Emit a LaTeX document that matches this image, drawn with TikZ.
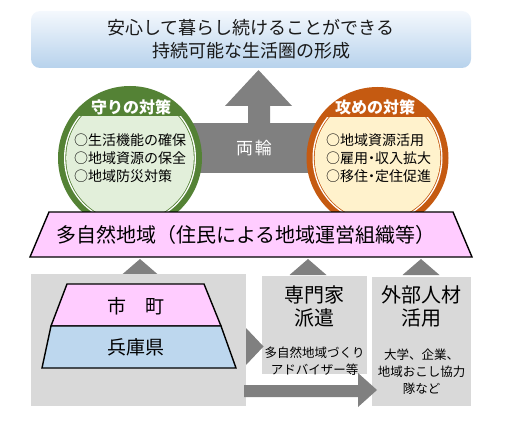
\documentclass[tikz,border=0pt]{standalone}
\usepackage{fontspec}
\setmainfont{Noto Sans CJK JP}
\usetikzlibrary{positioning}
\definecolor{goaltop}{HTML}{F4F8FD}
\definecolor{goalbot}{HTML}{B7D2EC}
\definecolor{arrgray}{HTML}{808080}
\definecolor{boxgray}{HTML}{D9D9D9}
\definecolor{defgreen}{HTML}{548235}
\definecolor{deflight}{HTML}{E2EFDA}
\definecolor{atkorange}{HTML}{C55A11}
\definecolor{atklight}{HTML}{FFF2CC}
\definecolor{areapink}{HTML}{FFCCFF}
\definecolor{prefblue}{HTML}{BDD7EE}
\newcommand{\ndot}{\kern-3.5pt・\kern-3.5pt}

\begin{document}
\begin{tikzpicture}[x=1pt,y=1pt,
  goal/.style={rounded corners=9pt,top color=goaltop,bottom color=goalbot,minimum width=440pt,minimum height=57pt,align=center,inner sep=0pt,font=\fontsize{18}{23}\selectfont,text=black!90},
  blk/.style={fill=arrgray},
  head/.style={text=white,inner sep=0pt,font=\fontsize{16}{18}\selectfont\bfseries},
  items/.style={anchor=west,align=left,inner sep=0pt,font=\fontsize{14}{18}\selectfont},
  tier/.style={draw=black,line width=1.4pt,line join=miter},
  panel/.style={fill=boxgray,inner sep=0pt},
  title/.style={align=center,inner sep=0pt,font=\fontsize{20}{23}\selectfont},
  note/.style={align=center,inner sep=0pt,font=\fontsize{12.5}{17}\selectfont}]
\useasboundingbox (0,0) rectangle (514,421);

% goal and the two wheels
\node[goal] (goal) at (251,381.5) {安心して暮らし続けることができる\\持続可能な生活圏の形成};
\fill[blk] (248,298) -- (248,315) -- (225,315) -- (258.5,351) -- (292,315) -- (270,315) -- (270,298) -- cycle;
\node[blk,minimum width=150pt,minimum height=50pt,text=white,font=\fontsize{17}{18}\selectfont] (wheel) at (254,273) {両\hspace{2pt}輪};

\fill[defgreen] (130,263) circle (72);
\begin{scope}
  \clip (50,150) rectangle (210,304);
  \fill[white] (130,263) circle (66);
  \fill[defgreen] (130,263) circle (64.6);
  \fill[deflight] (130,263) circle (63.8);
\end{scope}
\node[head] (defh) at (131,314) {守りの対策};
\node[items] (defl) at (74,263) {○生活機能の確保\\○地域資源の保全\\○地域防災対策};

\fill[atkorange] (377.5,263) circle (71);
\begin{scope}
  \clip (300,150) rectangle (455,303);
  \fill[white] (377.5,263) circle (65);
  \fill[atkorange] (377.5,263) circle (63.6);
  \fill[atklight] (377.5,263) circle (62.8);
\end{scope}
\node[head] (atkh) at (375,314) {攻めの対策};
\node[items] (atkl) at (326,263) {○地域資源活用\\○雇用\ndot 収入拡大\\○移住\ndot 定住促進};

% base: the area organisation
\draw[tier,fill=areapink] (30,164) -- (49,209) -- (453,209) -- (472,164) -- cycle;
\node[anchor=west,inner sep=0pt,font=\fontsize{20}{22}\selectfont] (area) at (56,186.5) {多自然地域（住民による地域運営組織等）};

\foreach \cx in {140,308,421}
  \fill[blk] (\cx-18.5,146) -- (\cx,162) -- (\cx+18.5,146) -- cycle;

% supporters
\node[panel,minimum width=215pt,minimum height=132pt] (local) at (138.5,81) {};
\draw[tier,fill=areapink] (51,95) -- (67,137) -- (204,137) -- (221,95) -- cycle;
\draw[tier,fill=prefblue] (42,53) -- (51,95) -- (221,95) -- (236,53) -- cycle;
\node[title,font=\fontsize{19}{22}\selectfont] (city) at (136,115) {市　町};
\node[title,font=\fontsize{19}{22}\selectfont] (pref) at (136,74) {兵庫県};

\node[panel,minimum width=105pt,minimum height=98pt] (expert) at (314.5,96) {};
\node[title] (expt) at (314.5,114.5) {専門家\\派遣};
\node[note,below=19pt of expt] (expn) {多自然地域づくり\\アドバイザー等};

\node[panel,minimum width=99pt,minimum height=129pt] (outer) at (421.5,79.5) {};
\node[title] (outt) at (421.5,114.5) {外部人材\\活用};
\node[note,below=21pt of outt] (outn) {大学、企業、\\地域おこし協力\\隊など};

\fill[blk] (246,56) -- (263.5,74.5) -- (246,93) -- cycle;
\fill[blk] (244,24) -- (358,24) -- (358,14) -- (377,31) -- (358,48) -- (358,36) -- (244,36) -- cycle;
\end{tikzpicture}
\end{document}
